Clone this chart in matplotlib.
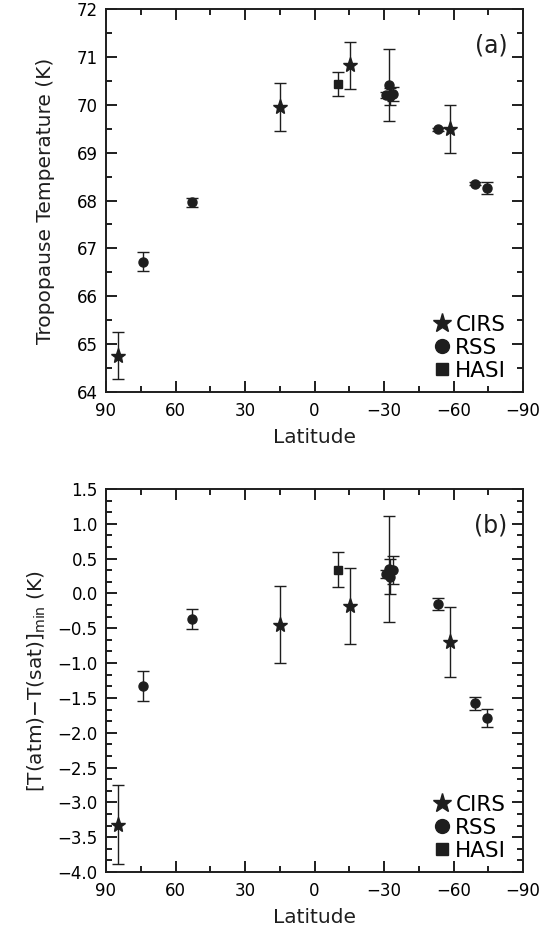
import numpy as np
import matplotlib
matplotlib.use('Agg')
from matplotlib import pyplot as plt
from matplotlib.ticker import MultipleLocator

# CIRS (stars)
cirs_lat = [85.0, 15.0, -15.2, -58.5]
cirs_tp = [64.76, 69.95, 70.82, 69.49]
cirs_tp_err = [0.49, 0.50, 0.50, 0.50]
cirs_dt = [-3.32, -0.45, -0.18, -0.70]
cirs_dt_err = [0.57, 0.55, 0.55, 0.50]

# RSS (circles)
rss_lat = [74.0, 52.8, -30.8, -32.0, -32.8, -33.8, -53.3, -69.4, -74.5]
rss_tp = [66.72, 67.96, 70.20, 70.42, 70.18, 70.23, 69.49, 68.35, 68.26]
rss_tp_err = [0.20, 0.09, 0.06, 0.75, 0.18, 0.15, 0.03, 0.03, 0.12]
rss_dt = [-1.33, -0.37, 0.28, 0.35, 0.24, 0.34, -0.15, -1.58, -1.79]
rss_dt_err = [0.21, 0.14, 0.06, 0.76, 0.25, 0.20, 0.09, 0.10, 0.13]

# HASI (square)
hasi_lat = [-10.2]
hasi_tp = [70.44]
hasi_tp_err = [0.25]
hasi_dt = [0.34]
hasi_dt_err = [0.25]

col = '#1e1e1e'
fst = 12     # tick labels
fsl = 14.5   # axis labels
fsg = 15.5   # legend
lw = 1.4

plt.rcParams['font.family'] = 'DejaVu Sans'

fig = plt.figure(figsize=(5.52, 9.3), dpi=100)
ax1 = fig.add_axes([106/552, 1-392/930, 417/552, 383/930])
ax2 = fig.add_axes([106/552, 1-872/930, 417/552, 383/930])

def draw(ax, tp, tpe, hs, hse, rr, rre):
    eb = dict(ls='none', ecolor=col, elinewidth=1.0, capsize=4.5, capthick=1.0, color=col)
    ax.errorbar(rss_lat, rr, yerr=rre, fmt='o', ms=6.5, mec=col, mfc=col, **eb)
    ax.errorbar(hasi_lat, hs, yerr=hse, fmt='s', ms=6, mec=col, mfc=col, **eb)
    ax.errorbar(cirs_lat, tp, yerr=tpe, fmt='*', ms=11, mec=col, mfc=col, **eb)
    # legend handles
    h1, = ax.plot([], [], '*', ms=14, color=col, label='CIRS')
    h2, = ax.plot([], [], 'o', ms=10, color=col, label='RSS')
    h3, = ax.plot([], [], 's', ms=8.5, color=col, label='HASI')
    ax.legend(handles=[h1, h2, h3], loc='lower right', bbox_to_anchor=(0.96, 0.03),
              frameon=False, fontsize=fsg, handletextpad=0.1, labelspacing=0.13,
              borderpad=0, handlelength=1.0, borderaxespad=0)
    ax.set_xlim(90, -90)
    ax.xaxis.set_major_locator(MultipleLocator(30))
    ax.xaxis.set_minor_locator(MultipleLocator(15))
    ax.tick_params(which='both', direction='in', top=True, right=True, width=lw, color=col)
    ax.tick_params(which='major', length=8, labelsize=fst, pad=7)
    ax.tick_params(which='minor', length=4.5)
    ax.tick_params(axis='y', which='major', pad=6)
    for s in ax.spines.values():
        s.set_linewidth(lw)
        s.set_color(col)
    ax.set_xlabel('Latitude', fontsize=fsl, labelpad=6, color=col)

draw(ax1, cirs_tp, cirs_tp_err, hasi_tp, hasi_tp_err, rss_tp, rss_tp_err)
ax1.set_ylim(64, 72)
ax1.yaxis.set_major_locator(MultipleLocator(1))
ax1.yaxis.set_minor_locator(MultipleLocator(0.5))
ax1.set_ylabel('Tropopause Temperature (K)', fontsize=fsl, color=col)
ax1.yaxis.set_label_coords(-0.122, 0.5)
ax1.text(0.923, 0.905, '(a)', transform=ax1.transAxes, fontsize=17, ha='center', va='center', color=col)

draw(ax2, cirs_dt, cirs_dt_err, hasi_dt, hasi_dt_err, rss_dt, rss_dt_err)
ax2.set_ylim(-4.0, 1.5)
ax2.yaxis.set_major_locator(MultipleLocator(0.5))
ax2.yaxis.set_minor_locator(MultipleLocator(0.5/3))
ax2.set_ylabel(r'[T(atm)$-$T(sat)]$_{\rm min}$ (K)', fontsize=fsl, color=col)
ax2.yaxis.set_label_coords(-0.14, 0.5)
ax2.text(0.923, 0.905, '(b)', transform=ax2.transAxes, fontsize=17, ha='center', va='center', color=col)

fig.savefig('out.png', dpi=100)
